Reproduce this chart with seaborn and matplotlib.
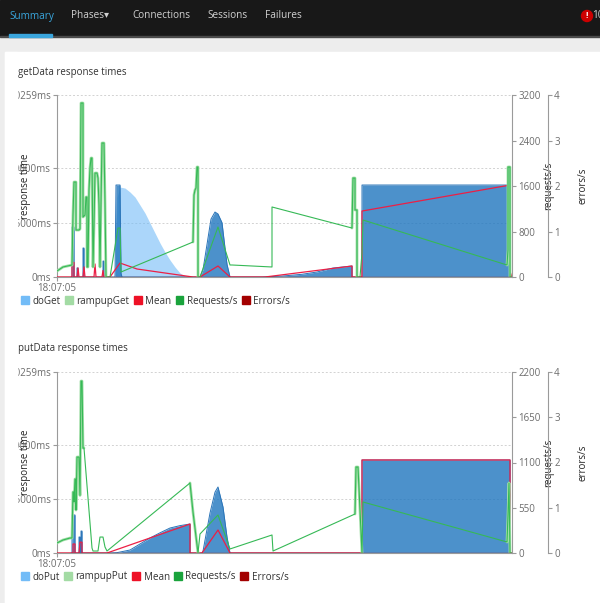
import numpy as np
import pandas as pd
import seaborn as sns
import matplotlib.pyplot as plt
from matplotlib.patches import Rectangle, Patch, Circle

# time axis: seconds after 18:07:05
t_end = 455

# ---------------- getData ----------------
get_req_t = [0, 6, 15, 16, 17, 19, 19, 22, 23, 24, 26, 26, 28, 29, 30, 30, 31, 32, 33, 34, 35, 36, 37, 38, 40, 41,
             42, 43, 44, 45, 47, 48, 49, 53, 61, 63, 64, 136, 137, 138, 139, 140, 141, 141, 143, 161, 173, 175, 215,
             215, 295, 296, 298, 298, 300, 300, 303, 305, 306, 450, 451, 451, 453, 453, 455]
get_req = [105, 176, 211, 1090, 1670, 1670, 826, 826, 844, 3059, 3059, 1055, 1090, 1406, 1406, 176, 176, 1529, 1916,
           2092, 2092, 176, 914, 1828, 1828, 1740, 1266, 176, 1301, 2356, 2356, 1301, 0, 0, 861, 861, 88, 615, 1442,
           1529, 1565, 1934, 1934, 0, 0, 879, 211, 211, 176, 1231, 861, 1740, 1740, 1178, 1178, 0, 0, 422, 1002, 211,
           475, 1934, 1934, 0, 0]

# rampup phase throughput segments
rampupGet = [
    ([0, 6, 15, 16, 17, 19, 19, 22, 23, 24, 26, 26, 28, 29, 30, 30, 31, 32, 33, 34, 35, 36, 37, 38, 40, 41, 42, 43,
      44, 45, 47, 48, 49],
     [105, 176, 211, 1090, 1670, 1670, 826, 826, 844, 3059, 3059, 1055, 1090, 1406, 1406, 176, 176, 1529, 1916, 2092,
      2092, 176, 914, 1828, 1828, 1740, 1266, 176, 1301, 2356, 2356, 1301, 0]),
    ([136, 137, 138, 139, 140, 141, 141], [615, 1442, 1529, 1565, 1934, 1934, 0]),
    ([295, 296, 298, 298, 300, 300], [861, 1740, 1740, 1178, 1178, 0]),
    ([450, 451, 451, 453, 453], [211, 475, 1934, 1934, 0]),
]

doGet_max_t = [58, 60, 63, 68, 73, 78, 83, 88, 93, 98, 103, 108, 113, 118, 123, 128, 131]
doGet_max = [0, 22000, 24840, 24560, 23460, 22080, 19870, 17660, 14900, 12140, 9380, 6900, 4690, 2760, 1100, 280, 0]

doGet_t = [14, 15, 15, 17, 17, 20, 20, 21, 21, 26, 26, 27, 27, 46, 46, 47, 47, 58, 59, 63, 64, 65,
           143, 146, 150, 154, 158, 161, 165, 168, 170, 173,
           205, 225, 245, 260, 276, 295, 295, 305, 305, 453, 453]
doGet = [0, 0, 13800, 13800, 0, 0, 2500, 2500, 0, 0, 8000, 8000, 0, 0, 4400, 4400, 0, 0, 25400, 25400, 1000, 0,
         0, 2000, 9000, 16000, 17940, 17400, 15000, 8000, 3500, 0,
         0, 250, 750, 1380, 2480, 3036, 0, 0, 25400, 25400, 0]

get_mean_t = [0, 15, 15, 17, 17, 20, 21, 22, 26, 27, 28, 37, 38, 39, 45, 46, 47, 53, 63, 80, 136, 143, 161, 173,
              208, 295, 295, 305, 305, 453, 453, 455]
get_mean = [0, 0, 4000, 4000, 0, 0, 2500, 0, 0, 2800, 0, 0, 3600, 0, 0, 1800, 0, 0, 3864, 2208, 0, 0, 3036, 0,
            0, 3036, 0, 0, 18216, 25390, 1500, 0]

get_err_t = [0, 455]
get_err = [0, 0]

# ---------------- putData ----------------
put_req_t = [0, 6, 13, 15, 16, 17, 17, 18, 19, 19, 20, 22, 23, 24, 25, 26, 27, 35, 36, 41, 43, 46, 48, 50, 133, 136,
             141, 143, 161, 173, 215, 216, 298, 299, 301, 305, 306, 450, 451, 452, 453, 455]
put_req = [122, 158, 182, 182, 741, 741, 620, 899, 899, 522, 1166, 1166, 700, 2090, 2090, 1276, 1276, 61, 24, 24,
           194, 194, 73, 24, 851, 498, 0, 231, 462, 49, 219, 24, 474, 1045, 1045, 0, 620, 134, 462, 851, 0, 0]

rampupPut = [
    ([0, 6, 13, 15, 16, 17, 17, 18, 19, 19, 20, 22, 23, 24, 25, 26, 27],
     [122, 158, 182, 182, 741, 741, 620, 899, 899, 522, 1166, 1166, 700, 2090, 2090, 1276, 1276]),
    ([133, 136, 141], [851, 498, 0]),
    ([298, 299, 301, 305], [474, 1045, 1045, 0]),
    ([450, 451, 452, 453], [134, 462, 851, 0]),
]

doPut_max_t = [0, 1]
doPut_max = [0, 0]

doPut_t = [14, 15, 15, 18, 18, 22, 22, 23, 23, 24, 24, 25, 25,
           50, 60, 73, 83, 93, 103, 113, 123, 133, 133,
           145, 146, 153, 158, 161, 166, 170, 173,
           305, 305, 453, 453]
doPut = [0, 0, 10550, 10550, 0, 0, 4440, 4440, 0, 0, 6100, 6100, 0,
         0, 100, 830, 2500, 4170, 5600, 6940, 7600, 8050, 0,
         0, 500, 11100, 16900, 18330, 12770, 4440, 0,
         0, 25830, 25830, 0]

put_mean_t = [0, 16, 16, 18, 18, 22, 23, 25, 25, 50, 133, 133, 145, 161, 173, 305, 305, 453, 453, 455]
put_mean = [0, 0, 2500, 2500, 0, 0, 3000, 3000, 0, 0, 8050, 0, 0, 6390, 0, 0, 25830, 25830, 0, 0]

put_err_t = [0, 455]
put_err = [0, 0]

# axes scales
rt_ticks = [0, 15000, 30000, 50259]
rt_labels = ["0ms", "15000ms", "30000ms", "50259ms"]
get_req_ticks = [0, 800, 1600, 2400, 3200]
put_req_ticks = [0, 550, 1100, 1650, 2200]
err_ticks = [0, 1, 2, 3, 4]

tabs = ["Summary", "Phases", "Connections", "Sessions", "Failures"]
tab_x = [9, 71, 132, 207, 265]

c_light = "#73bcf7"
c_dark = "#1f76bf"
c_rampup = "#a2dea8"
c_mean = "#ec1f45"
c_req = "#36b956"
c_err = "#a30000"
grey = "#9a9a9a"
tick_col = "#6c6c6c"

sns.set_theme(style="white")
plt.rcParams["font.family"] = ["Open Sans", "DejaVu Sans"]

W, H = 600, 603
fig = plt.figure(figsize=(6, 6.03), dpi=100)
fig.patch.set_facecolor("#ededed")


def fx(x):
    return x / W


def fy(y):
    return 1 - y / H


# nav bar + page panel
fig.patches.append(Rectangle((0, fy(36)), 1, 36 / H, transform=fig.transFigure, color="#181818", zorder=-5))
fig.patches.append(Rectangle((0, fy(37)), 1, 1 / H, transform=fig.transFigure, color="#4a4a4a", zorder=-5))
fig.patches.append(Rectangle((fx(9), fy(37)), 43 / W, 2.5 / H, transform=fig.transFigure, color="#39a5dc", zorder=-4))
fig.patches.append(Rectangle((fx(5), 0), 1, fy(52), transform=fig.transFigure, color="white", zorder=-5))
for name, x in zip(tabs, tab_x):
    fig.text(fx(x), fy(16), name + ("\u25be" if name == "Phases" else ""), fontsize=7.2,
             color="#39a5dc" if name == "Summary" else "#d1d1d1", va="center", ha="left",
             family=["Open Sans", "DejaVu Sans"])
fig.patches.append(Circle((fx(587), fy(16)), 5.5 / W, transform=fig.transFigure, color="#cc0000", zorder=2))
fig.text(fx(587), fy(16), "!", color="white", fontsize=6, ha="center", va="center", weight="bold", zorder=3)
fig.text(fx(592), fy(16), "10", color="#d1d1d1", fontsize=7.2, ha="left", va="center")


def line(ax, t, v, color, lw, z=3):
    sns.lineplot(x=t, y=v, ax=ax, color=color, lw=lw, estimator=None, sort=False, legend=False, zorder=z)


def chart(top, bottom, title, t_max, v_max, t_dark, v_dark, ramp, req_t, req, req_ticks,
          mean_t, mean, err_t, err, names):
    ax = fig.add_axes([fx(57), fy(bottom), 455 / W, (bottom - top) / H])
    ax.set_facecolor("none")
    ax.fill_between(t_max, v_max, color=c_light, alpha=0.6, lw=0, zorder=1)
    ax.fill_between(t_dark, v_dark, color=c_dark, alpha=0.8, lw=0, zorder=2)
    line(ax, t_dark, v_dark, "#2a74b8", 0.7, 2)
    line(ax, mean_t, mean, c_mean, 0.9, 4)
    ax.set_xlim(0, t_end)
    ax.set_ylim(0, rt_ticks[-1])
    ax.set_yticks(rt_ticks)
    ax.set_yticklabels(rt_labels)
    ax.set_xticks([0])
    ax.set_xticklabels(["18:07:05"])
    ax.yaxis.grid(True, color="#d2d2d2", ls=(0, (2, 2)), lw=0.7)
    ax.set_axisbelow(True)
    for s in ["top", "right"]:
        ax.spines[s].set_visible(False)
    for s in ["left", "bottom"]:
        ax.spines[s].set_color(grey)
        ax.spines[s].set_linewidth(0.8)
    ax.tick_params(length=3, width=0.8, color=grey, labelsize=7, labelcolor=tick_col, pad=1.5, left=True,
                   bottom=True)
    ax.set_xlabel("")
    ax.set_ylabel("response time", fontsize=7, color="#222222")
    ax.yaxis.set_label_coords(-0.057, 0.5)

    rq = ax.twinx()
    for seg_t, seg_v in ramp:
        line(rq, seg_t, seg_v, c_rampup, 2.0, 3)
    line(rq, req_t, req, c_req, 0.8, 4)
    rq.set_ylim(0, req_ticks[-1])
    rq.set_yticks(req_ticks)
    rq.set_ylabel("requests/s", fontsize=7, color="#222222")
    rq.yaxis.set_label_coords(1.068, 0.5)

    er = ax.twinx()
    line(er, err_t, err, c_err, 0.9, 4)
    er.set_ylim(0, err_ticks[-1])
    er.set_yticks(err_ticks)
    er.spines["right"].set_position(("axes", (548 - 57) / 455))
    er.set_ylabel("errors/s", fontsize=7, color="#222222")
    er.yaxis.set_label_coords(1.145, 0.5)
    for tw in (rq, er):
        tw.grid(False)
        tw.set_xlim(0, t_end)
        for s in ["left", "top", "bottom"]:
            tw.spines[s].set_visible(False)
        tw.spines["right"].set_color(grey)
        tw.spines["right"].set_linewidth(0.8)
        tw.tick_params(length=3, width=0.8, color=grey, labelsize=7, labelcolor=tick_col, pad=1.5, right=True)

    fig.text(fx(18), fy(top - 23), title, fontsize=7, color="#333333", va="center", ha="left")
    handles = [Patch(color=c) for c in [c_light, "#a3dba4", "#ee1126", "#1aa33c", c_err]]
    fig.legend(handles, names, loc="center left", bbox_to_anchor=(fx(21), fy(bottom + 24)), ncol=5,
               frameon=False, fontsize=7.1, handlelength=0.8, handleheight=0.8, handletextpad=0.35,
               columnspacing=0.45, borderpad=0, borderaxespad=0, labelcolor="#333333")


chart(95, 277, "getData response times", doGet_max_t, doGet_max, doGet_t, doGet, rampupGet,
      get_req_t, get_req, get_req_ticks, get_mean_t, get_mean, get_err_t, get_err,
      ["doGet", "rampupGet", "Mean", "Requests/s", "Errors/s"])
chart(372, 553, "putData response times", doPut_max_t, doPut_max, doPut_t, doPut, rampupPut,
      put_req_t, put_req, put_req_ticks, put_mean_t, put_mean, put_err_t, put_err,
      ["doPut", "rampupPut", "Mean", "Requests/s", "Errors/s"])

# the card clips overflowing tick labels at its inner padding
fig.patches.append(Rectangle((fx(5), 0), 12 / W, fy(52), transform=fig.transFigure, color="white", zorder=10))

fig.savefig("out.png", dpi=100, facecolor=fig.get_facecolor())
